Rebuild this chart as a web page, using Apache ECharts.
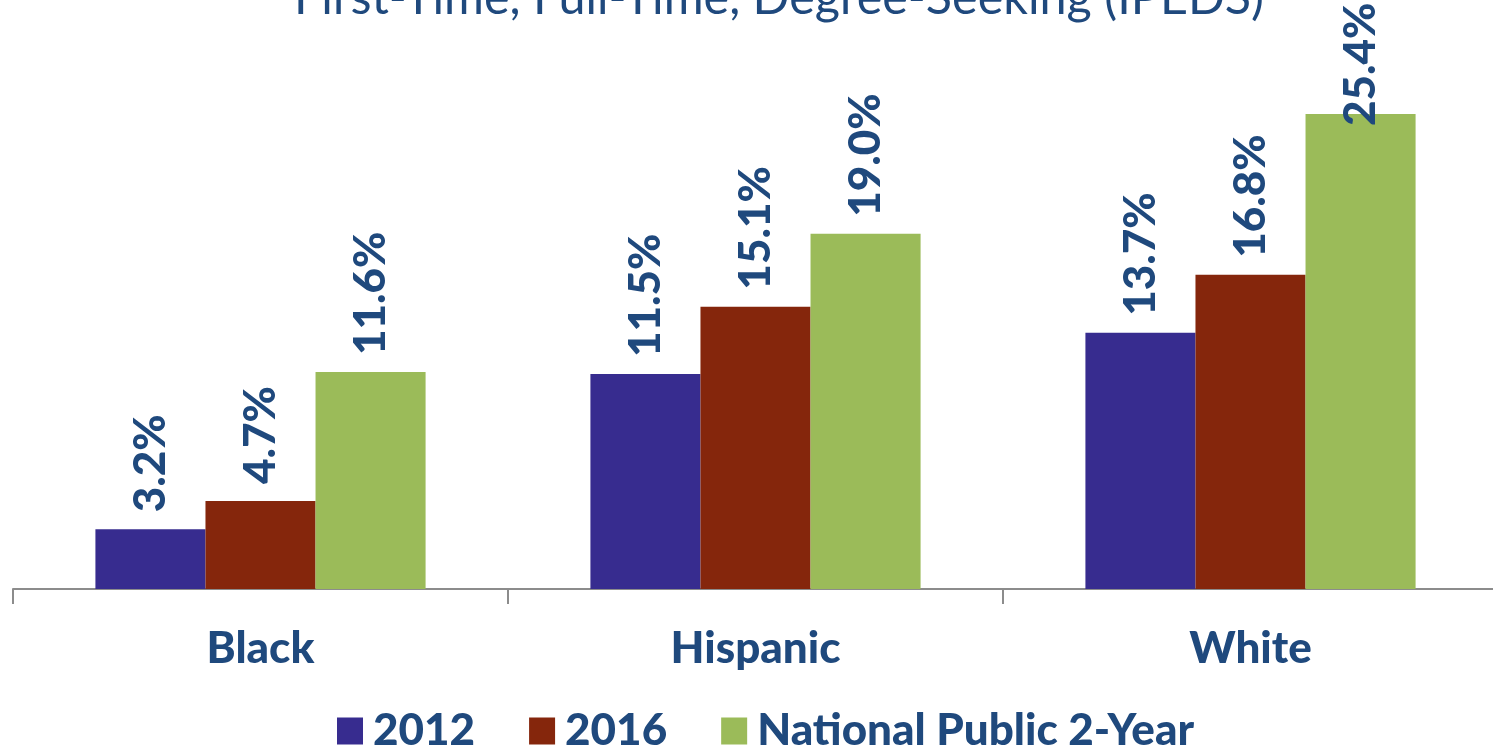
<!DOCTYPE html>
<html>
<head>
<meta charset="utf-8">
<script src="https://cdn.jsdelivr.net/npm/echarts@6/dist/echarts.min.js"></script>
<style>
  html, body { margin: 0; padding: 0; background: #fff; overflow: hidden; }
  #chart { width: 1500px; height: 752px; }
</style>
</head>
<body>
<div id="chart"></div>
<script>
// 图表数据
const categories = ['Black', 'Hispanic', 'White']
const seriesNames = ['2012', '2016', 'National Public 2-Year']
const data2012 = [3.2, 11.5, 13.7]
const data2016 = [4.7, 15.1, 16.8]
const dataNational = [11.6, 19.0, 25.4]

const colors = ['#372C8F', '#85260C', '#9BBB59']
const textColor = '#1F497D'
const fontFamily = 'Lato, "Open Sans", sans-serif'
// 标签太高时放到柱子里面一点（和原图一样）
const labelTopLimit = 22

let myChart = echarts.init(document.getElementById('chart'))

const makeSeries = (name, values, index) => {
  return {
    name: name,
    type: 'bar',
    data: values.map((v) => {
      if (v > labelTopLimit) {
        return { value: v, label: { distance: -12 } }
      }
      return v
    }),
    barGap: '0%',
    barCategoryGap: '33.3%',
    itemStyle: { color: colors[index] },
    label: {
      show: true,
      position: 'top',
      rotate: 90,
      align: 'left',
      verticalAlign: 'middle',
      distance: 17,
      color: textColor,
      fontFamily: fontFamily,
      fontWeight: 900,
      fontSize: 44,
      formatter: (p) => p.value.toFixed(1) + '%'
    }
  }
}

let option = {
  animation: false,
  title: {
    text: 'First-Time, Full-Time, Degree-Seeking (IPEDS)',
    left: 779,
    textAlign: 'center',
    top: -26,
    padding: 0,
    textStyle: {
      color: textColor,
      fontFamily: fontFamily,
      fontWeight: 'normal',
      fontSize: 48.5,
      lineHeight: 48
    }
  },
  legend: {
    data: seriesNames,
    left: 337,
    top: 708,
    padding: 0,
    icon: 'rect',
    itemWidth: 26,
    itemHeight: 27,
    itemGap: 54,
    textStyle: {
      color: textColor,
      fontFamily: fontFamily,
      fontWeight: 900,
      fontSize: 44,
      lineHeight: 46,
      padding: [0, 0, 0, 5]
    }
  },
  grid: {
    left: 13,
    top: 28,
    width: 1485,
    bottom: 163,
    containLabel: false
  },
  xAxis: {
    type: 'category',
    data: categories,
    axisLine: { lineStyle: { color: '#8C8C8C', width: 2 } },
    axisTick: { show: true, length: 15, lineStyle: { color: '#8C8C8C', width: 2 } },
    axisLabel: {
      margin: 38,
      color: textColor,
      fontFamily: fontFamily,
      fontWeight: 900,
      fontSize: 44
    }
  },
  yAxis: {
    type: 'value',
    min: 0,
    max: 30,
    show: false,
    splitLine: { show: false }
  },
  series: [
    makeSeries(seriesNames[0], data2012, 0),
    makeSeries(seriesNames[1], data2016, 1),
    makeSeries(seriesNames[2], dataNational, 2)
  ]
}

myChart.setOption(option)
</script>
</body>
</html>
